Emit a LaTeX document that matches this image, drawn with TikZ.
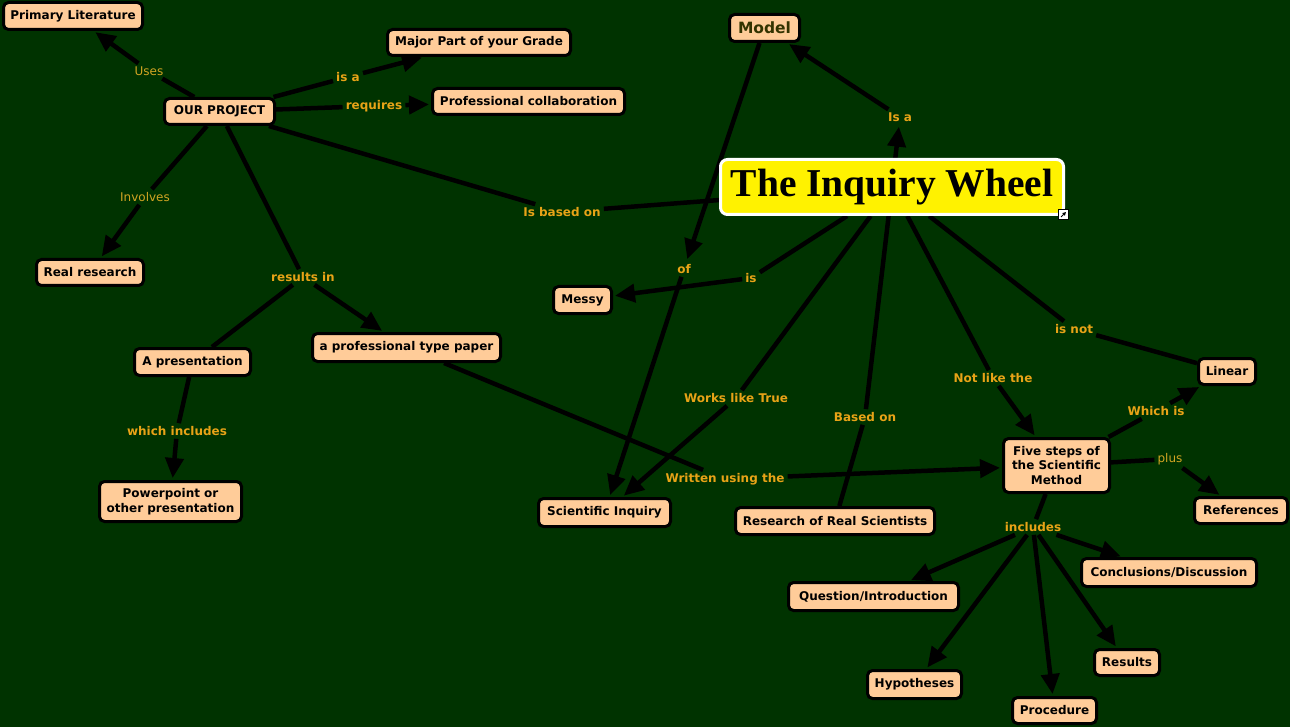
\documentclass[tikz,border=0pt]{standalone}
\usepackage{fontspec}
\setmainfont{DejaVu Sans}
\newfontfamily\titlefont{Liberation Serif}
\usetikzlibrary{arrows.meta}
\definecolor{bgc}{RGB}{0,51,0}
\definecolor{peach}{RGB}{255,204,153}
\definecolor{lblc}{RGB}{232,163,23}
\definecolor{lblthinc}{RGB}{210,165,35}
\definecolor{modelc}{RGB}{51,51,0}
\pgfdeclarelayer{bglayer}
\pgfdeclarelayer{linelayer}
\pgfsetlayers{bglayer,linelayer,main}
\begin{document}
\begin{tikzpicture}[x=1pt,y=-1pt,
 concept/.style={draw=black, line width=3pt, fill=peach, rounded corners=5pt,
   inner xsep=4pt, inner ysep=2pt, align=center,
   font=\fontsize{12}{14.5}\selectfont\bfseries},
 lbl/.style={text=lblc, inner sep=3pt, font=\fontsize{12}{14}\selectfont\bfseries},
 lblthin/.style={text=lblthinc, inner sep=3pt, font=\fontsize{12}{14}\selectfont},
 link/.style={line width=4.5pt, draw=black},
 arr/.style={link, -{Triangle[length=20pt,width=18pt]}, shorten >=2pt},
]
\begin{pgfonlayer}{bglayer}
\fill[bgc] (0,0) rectangle (1290,727);
\end{pgfonlayer}
\useasboundingbox (0,0) rectangle (1290,727);

% concepts
\node[concept, minimum width=139, minimum height=27] (prim) at (73,16) {Primary Literature};
\node[concept, minimum width=183, minimum height=26] (major) at (479,42.5) {Major Part of your Grade};
\node[concept, minimum width=110, minimum height=26] (proj) at (219.5,111.5) {OUR PROJECT};
\node[concept, minimum width=192, minimum height=26] (collab) at (528.5,101.5) {Professional collaboration};
\node[concept, minimum width=70, minimum height=27, text=modelc, font=\fontsize{15.5}{18}\selectfont\bfseries] (model) at (764.5,28) {Model};
\node[draw=white, line width=3pt, fill=yellow, rounded corners=7pt, minimum width=343, minimum height=55, inner sep=2pt,
  font=\titlefont\bfseries\fontsize{39.5}{44}\selectfont] (wheel) at (892,187) {The Inquiry Wheel};
\node[concept, minimum width=107, minimum height=26] (real) at (90,272.5) {Real research};
\node[concept, minimum width=58, minimum height=27] (messy) at (582.5,300) {Messy};
\node[concept, minimum width=116, minimum height=27] (pres) at (192.5,362) {A presentation};
\node[concept, minimum width=188, minimum height=28] (paper) at (406.5,347.5) {a professional type paper};
\node[concept, minimum width=57, minimum height=26] (linear) at (1227,371.5) {Linear};
\node[concept, minimum width=106, minimum height=54] (five) at (1056.5,465.5) {Five steps of\\the Scientific\\Method};
\node[concept, minimum width=142, minimum height=40] (ppt) at (170.5,501.5) {Powerpoint or\\other presentation};
\node[concept, minimum width=132, minimum height=28] (sci) at (604.5,512.5) {Scientific Inquiry};
\node[concept, minimum width=199, minimum height=27] (research) at (835,521) {Research of Real Scientists};
\node[concept, minimum width=93, minimum height=26] (refs) at (1241,510.5) {References};
\node[concept, minimum width=175, minimum height=28] (concl) at (1169,572.5) {Conclusions/Discussion};
\node[concept, minimum width=170, minimum height=28] (quest) at (873.5,596.5) {Question/Introduction};
\node[concept, minimum width=65, minimum height=26] (results) at (1127,662.5) {Results};
\node[concept, minimum width=94, minimum height=28] (hyp) at (914.5,684.5) {Hypotheses};
\node[concept, minimum width=84, minimum height=26] (proc) at (1054.5,710.5) {Procedure};

% link labels
\node[lblthin] (uses) at (149,71) {Uses};
\node[lbl] (isa) at (348,77) {is a};
\node[lbl] (req) at (374,106) {requires};
\node[lbl] (basedon) at (562,212) {Is based on};
\node[lblthin] (involves) at (145,197) {Involves};
\node[lbl] (resin) at (303,277) {results in};
\node[lbl] (whinc) at (177,431) {which includes};
\node[lbl] (written) at (725,479) {Written using the};
\node[lbl] (isA) at (900,117) {Is a};
\node[lbl] (of) at (684,269) {of};
\node[lbl] (is) at (751,278) {is};
\node[lbl] (works) at (736,398) {Works like True};
\node[lbl] (based) at (865,417) {Based on};
\node[lbl] (notlike) at (993,378) {Not like the};
\node[lbl] (isnot) at (1074,329) {is not};
\node[lbl] (whichis) at (1156,411) {Which is};
\node[lblthin] (plus) at (1170,459) {plus};
\node[lbl] (incl) at (1033,527) {includes};

% small link icon
\node[draw=black, fill=white, line width=0.8pt, minimum size=10pt, inner sep=0pt] (icon) at (1063.5,214.5) {};
\draw[line width=1pt, -{Triangle[length=3.5pt,width=3.5pt]}] (icon.center) ++(-2.5,2.5) -- ++(5,-5);

\begin{pgfonlayer}{linelayer}
\draw[link] (proj) -- (uses);   \draw[arr] (uses) -- (prim);
\draw[link] (proj) -- (isa);    \draw[arr] (isa) -- (major);
\draw[link] (proj) -- (req);    \draw[arr] (req) -- (collab);
\draw[link] (proj) -- (basedon); \draw[link] (basedon) -- (wheel);
\draw[link] (proj) -- (involves); \draw[arr] (involves) -- (real);
\draw[link] (proj) -- (resin);  \draw[arr] (resin) -- (paper); \draw[link] (resin) -- (pres);
\draw[link] (pres) -- (whinc);  \draw[arr] (whinc) -- (ppt);
\draw[link] (paper) -- (written); \draw[arr] (written) -- (five);
\draw[arr] (wheel) -- (isA);    \draw[arr] (isA) -- (model);
\draw[arr] (model) -- (of);     \draw[arr] (of) -- (sci);
\draw[link] (wheel) -- (is);    \draw[arr] (is) -- (messy);
\draw[link] (wheel) -- (works); \draw[arr] (works) -- (sci);
\draw[link] (wheel) -- (based); \draw[link] (based) -- (research);
\draw[link] (wheel) -- (notlike); \draw[arr] (notlike) -- (five);
\draw[link] (wheel) -- (isnot); \draw[link] (isnot) -- (linear);
\draw[link] (five) -- (whichis); \draw[arr] (whichis) -- (linear);
\draw[link] (five) -- (plus);   \draw[arr] (plus) -- (refs);
\draw[link] (five) -- (incl);
\draw[arr] (incl) -- (concl);
\draw[arr] (incl) -- (quest);
\draw[arr] (incl) -- (hyp);
\draw[arr] (incl) -- (proc);
\draw[arr] (incl) -- (results);
\end{pgfonlayer}
\end{tikzpicture}
\end{document}
